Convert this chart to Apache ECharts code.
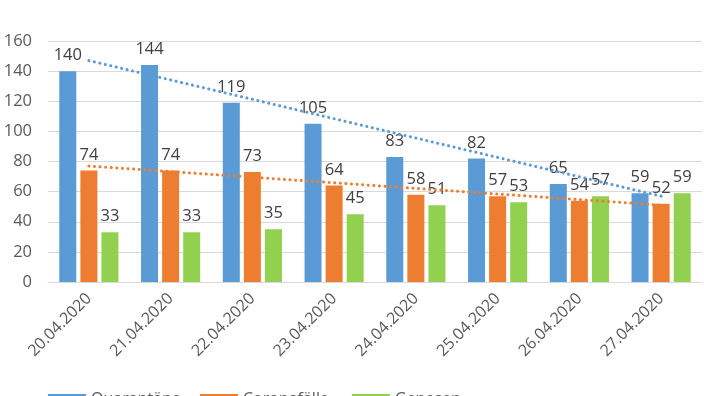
<!DOCTYPE html>
<html>
<head>
<meta charset="utf-8">
<script src="https://cdn.jsdelivr.net/npm/echarts@6/dist/echarts.min.js"></script>
<style>html,body{margin:0;padding:0;background:#fff;}#c{width:704px;height:396px;}</style>
</head>
<body>
<div id="c"></div>
<script>
var categories = ['20.04.2020','21.04.2020','22.04.2020','23.04.2020','24.04.2020','25.04.2020','26.04.2020','27.04.2020'];
var quarantaene = [140,144,119,105,83,82,65,59];
var coronafaelle = [74,74,73,64,58,57,54,52];
var genesen = [33,33,35,45,51,53,57,59];
// trendline endpoints (first and last category)
var trendQuarantaene = [147, 57];
var trendCorona = [77, 51];
var yTicks = [0,20,40,60,80,100,120,140,160];

function trendData(ends){
  var d = categories.map(function(){return null;});
  d[0] = ends[0]; d[d.length-1] = ends[1];
  return d;
}
var FONT = '"Open Sans", "Noto Sans", sans-serif';
var chart = echarts.init(document.getElementById('c'), null, {renderer:'canvas'});
var lbl = {show:true, position:'top', distance:7, fontSize:16.5, color:'#404040', fontFamily:FONT};
var legText = {fontSize:16, color:'#595959', fontFamily:FONT};
chart.setOption({
  animation:false,
  textStyle:{fontFamily:FONT},
  grid:{left:48, right:2, top:41, bottom:114, containLabel:false},
  legend:[
    {data:['Quarantäne'], left:43, top:386, itemWidth:38, itemHeight:10, icon:'rect', textStyle:legText},
    {data:['Coronafälle'], left:195, top:386, itemWidth:38, itemHeight:10, icon:'rect', textStyle:legText},
    {data:['Genesen'], left:347, top:386, itemWidth:38, itemHeight:10, icon:'rect', textStyle:legText}
  ],
  xAxis:{
    type:'category', data:categories, boundaryGap:true,
    axisLine:{lineStyle:{color:'#d9d9d9'}}, axisTick:{show:false},
    axisLabel:{rotate:45, fontSize:16, color:'#595959', margin:14, interval:0}
  },
  yAxis:{
    type:'value', min:yTicks[0], max:yTicks[yTicks.length-1], interval:20,
    axisLine:{show:false}, axisTick:{show:false},
    splitLine:{lineStyle:{color:'#d9d9d9'}},
    axisLabel:{fontSize:16.5, color:'#595959', margin:16}
  },
  series:[
    {name:'Quarantäne', type:'bar', data:quarantaene, barWidth:17, barGap:'24%', itemStyle:{color:'#5B9BD5'}, label:lbl},
    {name:'Coronafälle', type:'bar', data:coronafaelle, barWidth:17, barGap:'24%', itemStyle:{color:'#ED7D31'}, label:lbl},
    {name:'Genesen', type:'bar', data:genesen, barWidth:17, barGap:'24%', itemStyle:{color:'#92D050'}, label:lbl},
    {name:'TrendQ', type:'line', data:trendData(trendQuarantaene), connectNulls:true, symbol:'none', z:5,
      lineStyle:{color:'#5B9BD5', width:3, type:[0.1,5.5], cap:'round'}},
    {name:'TrendC', type:'line', data:trendData(trendCorona), connectNulls:true, symbol:'none', z:5,
      lineStyle:{color:'#ED7D31', width:3, type:[0.1,5.5], cap:'round'}}
  ]
});
</script>
</body>
</html>
